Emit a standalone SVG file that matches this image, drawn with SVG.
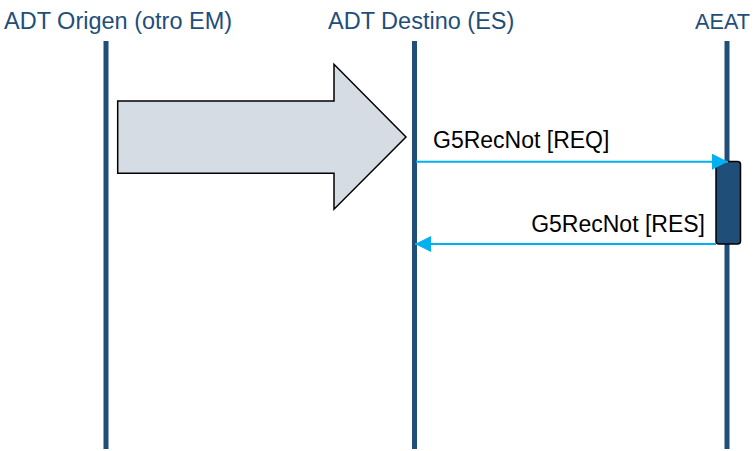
<svg xmlns="http://www.w3.org/2000/svg" width="754" height="451" viewBox="0 0 754 451">
<style>
.title{font-family:"Liberation Sans",Arial,sans-serif;font-size:23.5px;fill:#1F4E79}
.msg{font-family:"Liberation Sans",Arial,sans-serif;font-size:23px;fill:#000}
.life{stroke:#1F4E79;stroke-width:5}
.conn{stroke:#00B0F0;stroke-width:2;fill:none}
</style>
<defs>
<marker id="ah" viewBox="0 0 16 16" refX="16" refY="8" markerWidth="16" markerHeight="16" markerUnits="userSpaceOnUse" orient="auto">
<path d="M0,0 L16,8 L0,16 Z" fill="#00B0F0"/>
</marker>
</defs>
<rect width="754" height="451" fill="#fff"/>
<g id="origen">
<text class="title" x="4" y="28.5">ADT Origen (otro EM)</text>
<line class="life" x1="106" y1="41" x2="106" y2="449"/>
</g>
<g id="destino">
<text class="title" x="328" y="28.5">ADT Destino (ES)</text>
<line class="life" x1="414.5" y1="41" x2="414.5" y2="449"/>
</g>
<g id="aeat">
<text class="title" x="695" y="28.5" style="font-size:22.5px" textLength="55" lengthAdjust="spacingAndGlyphs">AEAT</text>
<line class="life" x1="727" y1="41" x2="727" y2="449"/>
<rect x="716" y="161.5" width="24.5" height="82.5" rx="3" fill="#1F4E79" stroke="#000" stroke-width="1.5"/>
</g>
<g id="transfer">
<polygon points="117.7,101 334,101 334,64.3 406,137 334,209.3 334,173.3 117.7,173.3" fill="#D6DCE4" stroke="#000" stroke-width="1.5"/>
</g>
<g id="connectors">
<line class="conn" x1="416" y1="161.7" x2="728" y2="161.7" marker-end="url(#ah)"/>
<text class="msg" x="433" y="148.3">G5RecNot [REQ]</text>
<line class="conn" x1="716" y1="244" x2="415" y2="244" marker-end="url(#ah)"/>
<text class="msg" x="705" y="231.7" text-anchor="end">G5RecNot [RES]</text>
</g>
</svg>
